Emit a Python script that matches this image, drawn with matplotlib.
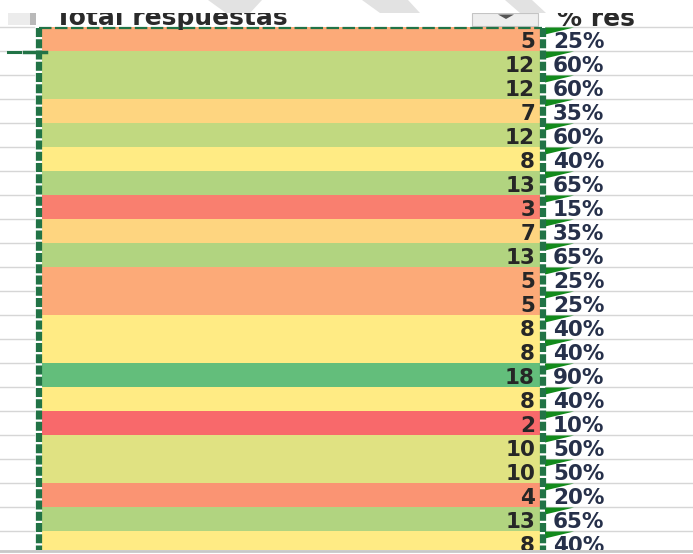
import numpy as np
import matplotlib.pyplot as plt
from matplotlib.patches import Polygon, Rectangle
from matplotlib.colors import to_rgb

# data read from the sheet
totals = [5, 12, 12, 7, 12, 8, 13, 3, 7, 13, 5, 5, 8, 8, 18, 8, 2, 10, 10, 4, 13, 8]
percents = [25, 60, 60, 35, 60, 40, 65, 15, 35, 65, 25, 25, 40, 40, 90, 40, 10, 50, 50, 20, 65, 40]
header_total = 'Total respuestas'
header_pct = '% res'   # the column header is cut off at the right edge

plt.rcParams['lines.scale_dashes'] = False

# excel 3 colour scale: red - yellow (50th percentile) - green
c_min, c_mid, c_max = np.array(to_rgb('#F8696B')), np.array(to_rgb('#FFEB84')), np.array(to_rgb('#63BE7B'))
v_min, v_mid, v_max = min(totals), np.percentile(totals, 50), max(totals)


def scale_color(v):
    if v <= v_mid:
        t = (v - v_min) / (v_mid - v_min)
        return c_min + (c_mid - c_min) * t
    t = (v - v_mid) / (v_max - v_mid)
    return c_mid + (c_max - c_mid) * t


colors = [scale_color(v) for v in totals]

fig = plt.figure(figsize=(6.93, 5.54), dpi=100)
ax = fig.add_axes([0, 0, 1, 1])
ax.set_xlim(0, 693)
ax.set_ylim(554, 0)
ax.axis('off')

row_h = 24
top0 = 26.5
col_left, col_right = 42, 540
pct_x = 553
n = len(totals)
tops = top0 + row_h * np.arange(n)
centers = tops + row_h / 2

# gridlines outside the coloured column
for y in list(tops) + [tops[-1] + row_h]:
    ax.plot([0, 34], [y, y], color='#d6d6d6', lw=1, zorder=0)
    ax.plot([546, 693], [y, y], color='#d6d6d6', lw=1, zorder=0)

# coloured cells
ax.barh(centers, col_right - col_left, left=col_left, height=row_h, color=colors, zorder=1)

for y, v, p in zip(centers, totals, percents):
    ax.text(535, y + 1, str(v), ha='right', va='center_baseline', fontsize=15.5,
            fontweight='bold', color='#262626', zorder=3)
    ax.text(pct_x, y + 1, f'{p}%', ha='left', va='center_baseline', fontsize=15.5,
            fontweight='bold', color='#26304a', zorder=3)

# little green error flags
for t in tops:
    ax.add_patch(Polygon([(545, t + 1), (574, t + 1), (545, t + 8)], closed=True,
                         color='#128a1c', lw=0, zorder=4))

# header row
ax.add_patch(Rectangle((8, 13), 24, 12, color='#ececec', lw=0, zorder=2))
ax.add_patch(Rectangle((30, 13), 6, 12, color='#b9b9b9', lw=0, zorder=2))
ax.text(55, 25.5, header_total, ha='left', va='baseline', fontsize=18,
        fontweight='bold', color='#2a2a2a', zorder=3)
ax.text(pct_x + 4, 25.5, header_pct, ha='left', va='baseline', fontsize=18,
        fontweight='bold', color='#2a2a2a', zorder=3)
ax.add_patch(Rectangle((472, 13), 66, 13, facecolor='#eeeeee', edgecolor='#c4c4c4',
                       lw=0.8, zorder=4))
ax.add_patch(Polygon([(498, 14.5), (514, 14.5), (506, 19)], closed=True,
                     color='#555555', lw=0, zorder=5))

# white band over the top of the header text, with the faint watermark
ax.add_patch(Rectangle((0, 0), 693, 13, color='white', lw=0, zorder=6))
for pts in [[(208, 0), (262, 0), (250, 13), (226, 13)],
            [(362, 0), (408, 0), (420, 13), (380, 13)],
            [(505, 0), (532, 0), (546, 13), (520, 13)]]:
    ax.add_patch(Polygon(pts, closed=True, color='#e2e2e2', lw=0, zorder=7))

# marching ants copy border
green = '#217346'
ax.plot([col_left - 3, col_right + 2], [27.5, 27.5], color=green, lw=1.6,
        dashes=(9, 2.5), zorder=5)
ax.plot([38.5, 38.5], [28, 551], color=green, lw=4.5, dashes=(6.5, 1.6), zorder=5)
ax.plot([542.5, 542.5], [28, 551], color=green, lw=4.5, dashes=(6.5, 1.6), zorder=5)

# move handle on the left
ax.plot([8, 20], [51.5, 51.5], color=green, lw=2.2, zorder=5)
ax.plot([24, 46], [51.5, 51.5], color=green, lw=2.5, zorder=5)

# bottom edge of the visible area
ax.add_patch(Rectangle((0, 550), 693, 4, color='white', lw=0, zorder=8))
ax.plot([0, 693], [550.5, 550.5], color='#c8c8c8', lw=2, zorder=9)

fig.savefig('out.png', dpi=100)
